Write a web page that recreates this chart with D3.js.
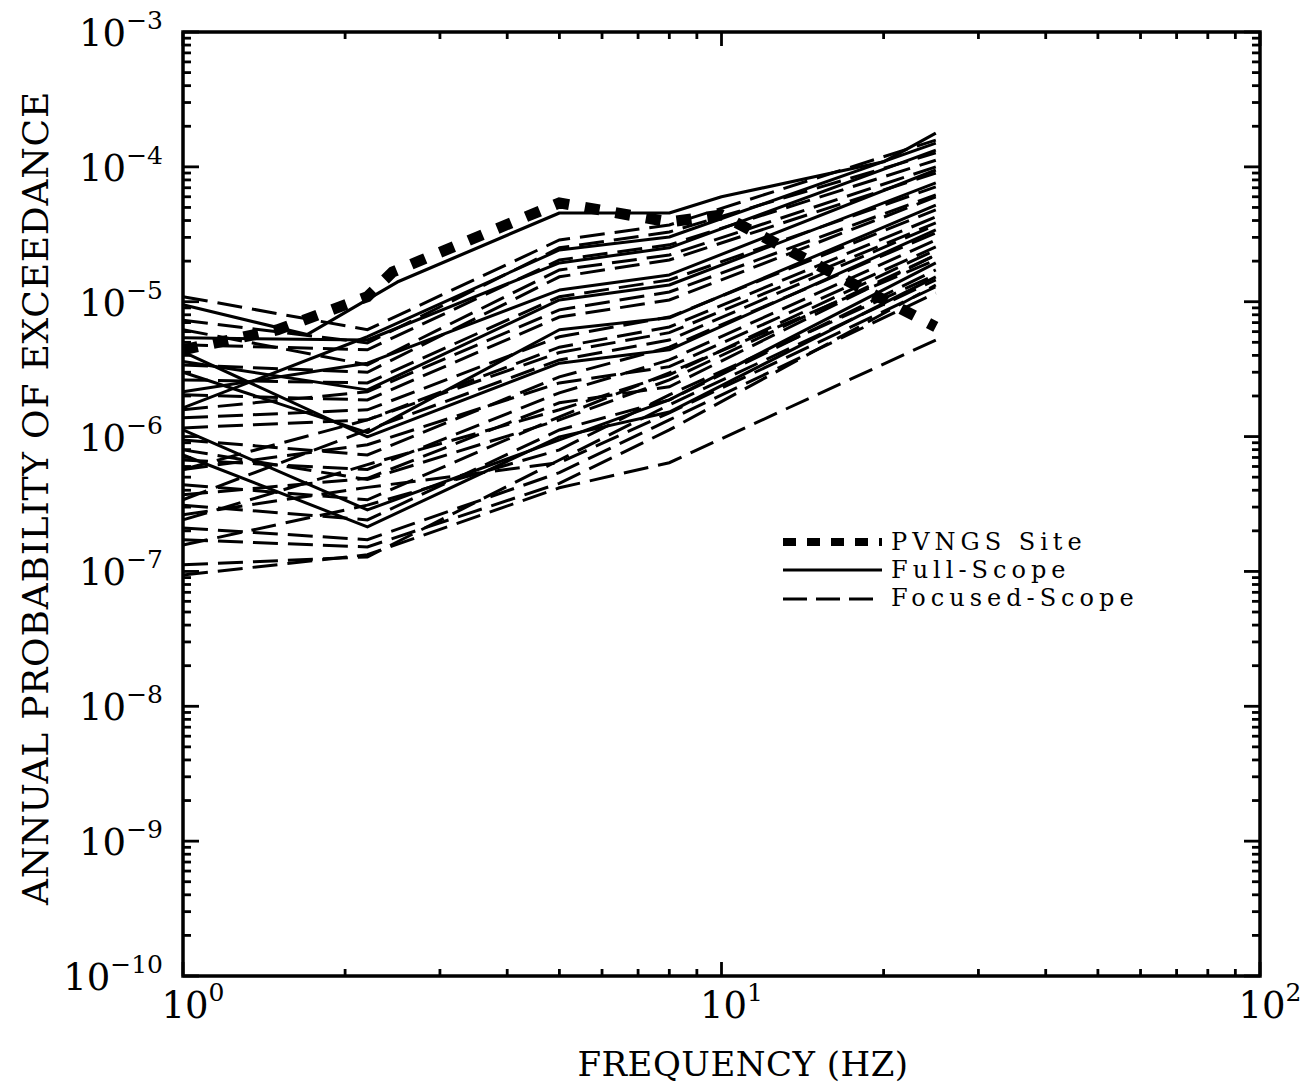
<html>
<head>
<script src="https://d3js.org/d3.v7.min.js"></script>
<style>
  body { margin: 0; background: white; }
  text { font-family: "DejaVu Serif", "Liberation Serif", serif; fill: black; }
</style>
</head>
<body>
<svg width="1307" height="1090"></svg>
<script>
// frequency grid shared by most curves (Hz)
var freqs = [1, 2.2, 5, 8, 25];

// PVNGS site curve
var pvngsFreqs = [1, 1.5, 2.2, 2.45, 5, 8, 10, 25];
var pvngsValues = [4.4e-6, 6.2e-6, 1.09e-5, 1.66e-5, 5.4e-5, 3.9e-5, 4.4e-5, 6.5e-6];

// upper full-scope curve has its own break points
var topFullFreqs = [1, 1.7, 2.5, 5, 8, 10, 20, 25];
var topFullValues = [9.5e-6, 5.7e-6, 1.4e-5, 4.55e-5, 4.55e-5, 6.0e-5, 1.09e-4, 1.78e-4];

// full-scope curves, values at freqs
var fullScope = [
  [5.4e-6, 5.2e-6, 1.94e-5, 2.51e-5, 1.33e-4],
  [4.25e-6, 9.95e-7, 3.5e-6, 4.4e-6, 3.41e-5],
  [1.63e-6, 5.5e-6, 2.42e-5, 3.02e-5, 1.5e-4],
  [3.6e-6, 2.22e-6, 1.03e-5, 1.33e-5, 7.6e-5],
  [3.0e-6, 1.07e-6, 6.2e-6, 7.6e-6, 5.2e-5],
  [2.15e-6, 3.5e-6, 1.22e-5, 1.58e-5, 9.48e-5],
  [1.12e-6, 2.86e-7, 9.45e-7, 1.87e-6, 1.94e-5],
  [7.3e-7, 2.14e-7, 9.95e-7, 1.52e-6, 1.53e-5]
];

// focused-scope curves, values at freqs
var focusedScope = [
  [1.09e-5, 6.2e-6, 2.87e-5, 3.71e-5, 1.58e-4],
  [7.3e-6, 4.95e-6, 2.51e-5, 3.29e-5, 1.27e-4],
  [4.8e-6, 4.4e-6, 2.04e-5, 2.64e-5, 1.12e-4],
  [3.4e-6, 3.0e-6, 1.53e-5, 2.04e-5, 9.0e-5],
  [2.63e-6, 2.5e-6, 1.09e-5, 1.45e-5, 7.1e-5],
  [2.04e-6, 1.87e-6, 7.7e-6, 1.03e-5, 5.98e-5],
  [1.38e-6, 1.58e-6, 5.5e-6, 7.7e-6, 4.8e-5],
  [1.16e-6, 1.33e-6, 4.2e-6, 5.9e-6, 3.84e-5],
  [9.45e-7, 7.3e-7, 2.77e-6, 4.6e-6, 3.24e-5],
  [6.7e-7, 5.7e-7, 2.11e-6, 3.7e-6, 2.87e-5],
  [5.7e-7, 8.7e-7, 2.5e-6, 3.3e-6, 2.55e-5],
  [4.4e-7, 3.4e-7, 1.4e-6, 2.97e-6, 2.04e-5],
  [3.7e-7, 4.9e-7, 1.78e-6, 2.34e-6, 2.22e-5],
  [3.1e-7, 2.41e-7, 1.12e-6, 1.87e-6, 1.72e-5],
  [2.63e-7, 4.2e-7, 6.4e-7, 1.5e-6, 1.29e-5],
  [2.1e-7, 1.72e-7, 5.4e-7, 1.33e-6, 1.16e-5],
  [1.72e-7, 1.52e-7, 4.5e-7, 1.12e-6, 1.33e-5],
  [1.12e-7, 1.28e-7, 6.7e-7, 1.72e-6, 1.45e-5],
  [9.4e-8, 1.33e-7, 4.17e-7, 6.4e-7, 5.2e-6],
  [5.7e-7, 1.33e-6, 4.6e-6, 6.5e-6, 4.25e-5],
  [3.4e-7, 1.12e-6, 3.7e-6, 5.2e-6, 3.71e-5],
  [2.41e-7, 6.2e-7, 1.58e-6, 2.87e-6, 2.42e-5],
  [6.2e-6, 3.4e-6, 1.72e-5, 2.22e-5, 1.0e-4],
  [1.58e-6, 2.15e-6, 8.7e-6, 1.18e-5, 6.2e-5],
  [7.97e-7, 4.8e-7, 1.33e-6, 2.63e-6, 2.22e-5],
  [1.57e-7, 3.1e-7, 7.97e-7, 2.04e-6, 1.58e-5]
];

var xDecades = [0, 1, 2];
var yDecades = [-3, -4, -5, -6, -7, -8, -9, -10];
var legendLabels = ["PVNGS Site", "Full-Scope", "Focused-Scope"];

var plotLeft = 183, plotRight = 1260, plotTop = 32, plotBottom = 976;
var svg = d3.select("svg");
var xs = d3.scaleLog().domain([1, 100]).range([plotLeft, plotRight]);
var ys = d3.scaleLog().domain([1e-10, 1e-3]).range([plotBottom, plotTop]);

var line = d3.line().x(function(d) { return xs(d[0]); }).y(function(d) { return ys(d[1]); });
var plot = svg.append("g");

function zip(fs, vs) { return fs.map(function(f, i) { return [f, vs[i]]; }); }

// focused-scope (dashed)
plot.selectAll(".focused").data(focusedScope).enter().append("path")
  .attr("class", "focused")
  .attr("d", function(d) { return line(zip(freqs, d)); })
  .attr("fill", "none").attr("stroke", "black")
  .attr("stroke-width", 3)
  .attr("stroke-dasharray", "25,10");

// full-scope (solid)
plot.selectAll(".full").data(fullScope).enter().append("path")
  .attr("class", "full")
  .attr("d", function(d) { return line(zip(freqs, d)); })
  .attr("fill", "none").attr("stroke", "black")
  .attr("stroke-width", 3)
  .attr("stroke-linejoin", "round");
plot.append("path")
  .attr("d", line(zip(topFullFreqs, topFullValues)))
  .attr("fill", "none").attr("stroke", "black")
  .attr("stroke-width", 3.2)
  .attr("stroke-linejoin", "round");

// PVNGS site (heavy dots)
plot.append("path")
  .attr("d", line(zip(pvngsFreqs, pvngsValues)))
  .attr("fill", "none").attr("stroke", "black")
  .attr("stroke-width", 11)
  .attr("stroke-dasharray", "15,16");

// frame
svg.append("rect")
  .attr("x", plotLeft).attr("y", plotTop)
  .attr("width", plotRight - plotLeft).attr("height", plotBottom - plotTop)
  .attr("fill", "none").attr("stroke", "black").attr("stroke-width", 3.5);

function isMajor(t) { var l = Math.log10(t); return Math.abs(l - Math.round(l)) < 1e-6; }

var ticks = svg.append("g").attr("stroke", "black").attr("stroke-width", 2.8);
ys.ticks().forEach(function(t) {
  var len = isMajor(t) ? 16 : 8, yy = ys(t);
  ticks.append("line").attr("x1", plotLeft).attr("x2", plotLeft + len).attr("y1", yy).attr("y2", yy);
  ticks.append("line").attr("x1", plotRight).attr("x2", plotRight - len).attr("y1", yy).attr("y2", yy);
});
xs.ticks().forEach(function(t) {
  var len = isMajor(t) ? 14 : 7, xx = xs(t);
  ticks.append("line").attr("x1", xx).attr("x2", xx).attr("y1", plotBottom).attr("y2", plotBottom - len);
  ticks.append("line").attr("x1", xx).attr("x2", xx).attr("y1", plotTop).attr("y2", plotTop + len);
});

// y tick labels
yDecades.forEach(function(p) {
  var t = svg.append("text")
    .attr("x", 163).attr("y", ys(Math.pow(10, p)) + 14)
    .attr("text-anchor", "end")
    .style("font-size", "37px");
  t.append("tspan").text("10");
  t.append("tspan").attr("dy", -17).style("font-size", "25px").text("\u2212" + Math.abs(p));
});

// x tick labels
xDecades.forEach(function(p) {
  var t = svg.append("text")
    .attr("x", xs(Math.pow(10, p)) + 10).attr("y", 1018)
    .attr("text-anchor", "middle")
    .style("font-size", "37px");
  t.append("tspan").text("10");
  t.append("tspan").attr("dy", -17).style("font-size", "25px").text(p);
});

// axis titles
svg.append("text")
  .attr("x", 743).attr("y", 1076)
  .attr("text-anchor", "middle")
  .style("font-size", "34px")
  .style("letter-spacing", "0.5px")
  .text("FREQUENCY (HZ)");
svg.append("text")
  .attr("transform", "translate(48,498) rotate(-90)")
  .attr("text-anchor", "middle")
  .style("font-size", "36px")
  .style("letter-spacing", "0.8px")
  .text("ANNUAL PROBABILITY OF EXCEEDANCE");

// legend
var legY = [542, 570, 599];
var textY = [550, 578, 606];
var legStyles = [
  { w: 8, dash: "13,11" },
  { w: 3, dash: null },
  { w: 3, dash: "24,9" }
];
legendLabels.forEach(function(name, i) {
  var l = svg.append("line")
    .attr("x1", 783).attr("x2", 882)
    .attr("y1", legY[i]).attr("y2", legY[i])
    .attr("stroke", "black").attr("stroke-width", legStyles[i].w);
  if (legStyles[i].dash) l.attr("stroke-dasharray", legStyles[i].dash);
  svg.append("text")
    .attr("x", 891).attr("y", textY[i])
    .style("font-size", "24px")
    .style("letter-spacing", "5px")
    .text(name);
});
</script>
</body>
</html>
